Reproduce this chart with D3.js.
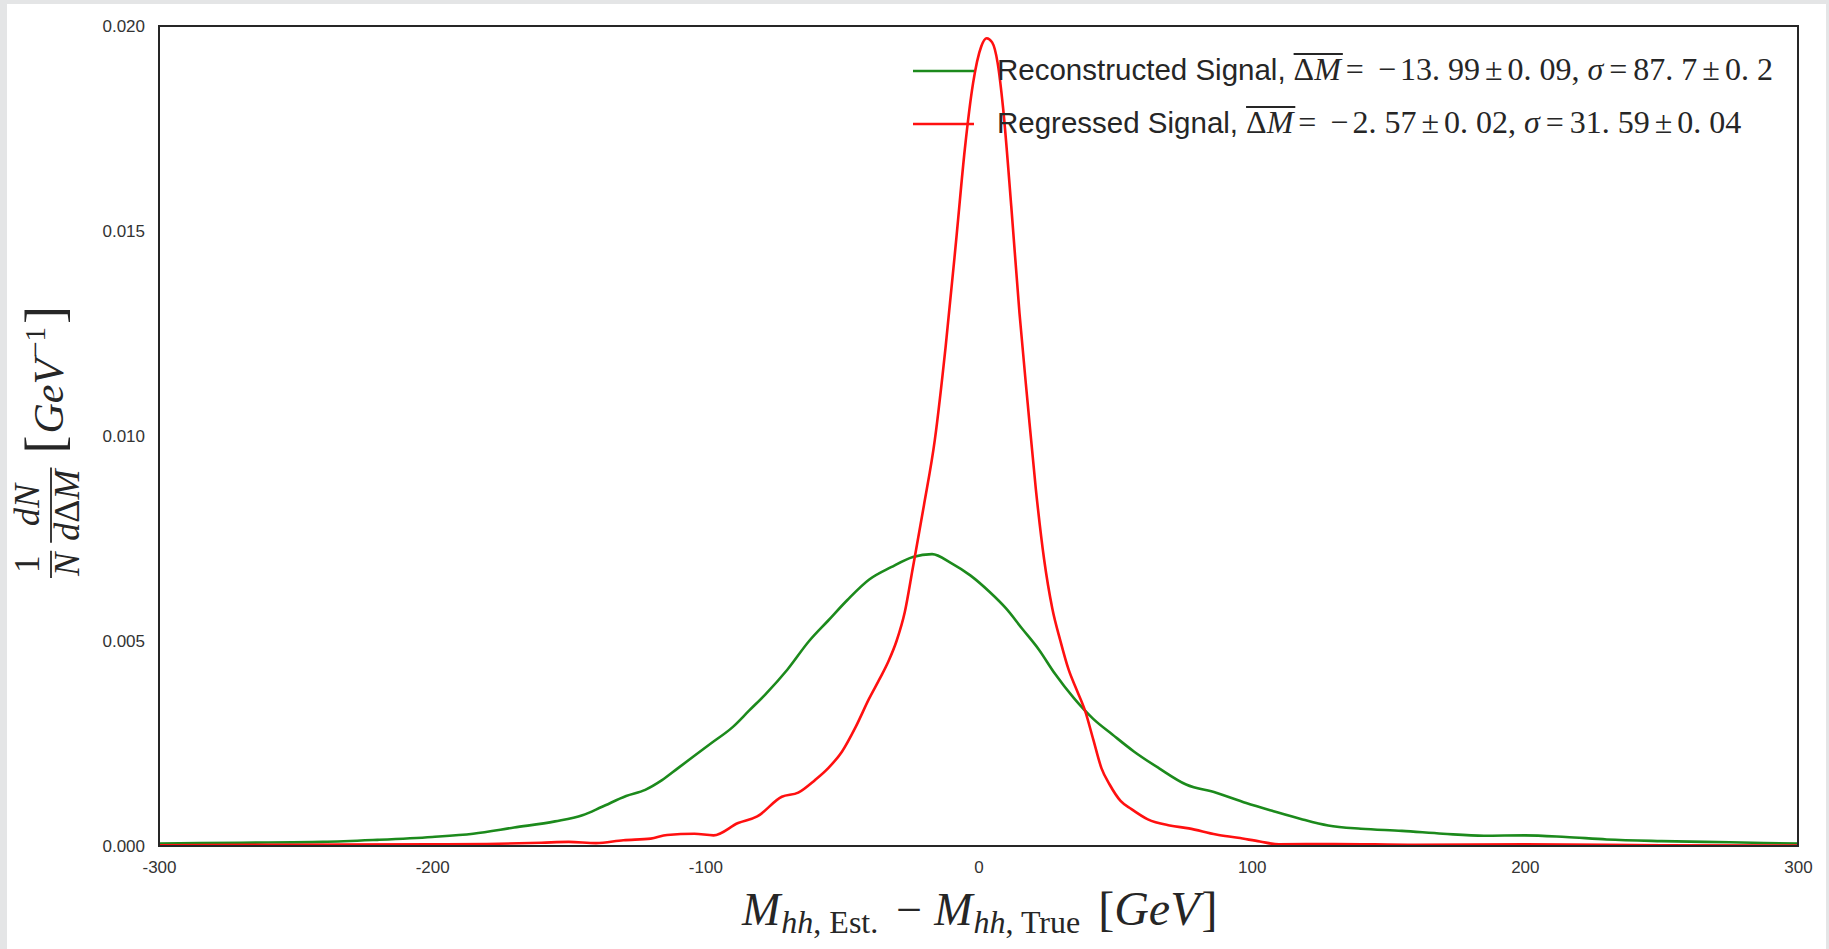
<!DOCTYPE html>
<html>
<head>
<meta charset="utf-8">
<script src="https://cdn.jsdelivr.net/npm/d3@7"></script>
<style>
  body { margin: 0; background: #e4e5e6; }
  svg { display: block; }
</style>
</head>
<body>
<div id="chart"></div>
<script>
// tick values
var xTicks = [-300, -200, -100, 0, 100, 200, 300];
var yTicks = [0, 0.005, 0.010, 0.015, 0.020];

// reconstructed signal (green)
var recoX = [-300, -270, -240, -220, -200, -185, -170, -155, -145, -138, -129, -122, -116, -110, -104, -98, -90, -84, -78, -70, -62, -55, -48, -40, -32, -24, -17, -10, -3, 4, 10, 16, 22, 28, 35, 42, 49, 57, 66, 76, 87, 98, 108, 118, 128, 140, 155, 170, 185, 200, 215, 230, 250, 275, 300];
var recoY = [0.00006, 0.00008, 0.0001, 0.00015, 0.00022, 0.0003, 0.00045, 0.0006, 0.00075, 0.00095, 0.00122, 0.00137, 0.0016, 0.0019, 0.0022, 0.0025, 0.0029, 0.0033, 0.0037, 0.0043, 0.0050, 0.0055, 0.0060, 0.0065, 0.0068, 0.00705, 0.00712, 0.0069, 0.0066, 0.0062, 0.0058, 0.0053, 0.0048, 0.0042, 0.0036, 0.0031, 0.00272, 0.0023, 0.0019, 0.0015, 0.0013, 0.00105, 0.00085, 0.00066, 0.0005, 0.00042, 0.00037, 0.0003, 0.00025, 0.00026, 0.00022, 0.00016, 0.00012, 0.00009, 0.00006];

// regressed signal (red)
var regX = [-300, -250, -200, -180, -160, -150, -140, -130, -120, -114, -104, -97, -88, -81, -72, -66, -60, -55, -50, -45, -40, -36, -33, -30, -27, -24, -20, -16, -12, -8, -5, -2, 1, 3, 5, 7, 9, 12, 15, 18, 21, 24, 27, 30, 33, 36, 39, 42, 45, 48, 52, 56, 62, 70, 77, 87, 95, 103, 110, 130, 160, 200, 250, 300];
var regY = [0.00002, 0.00003, 0.00004, 0.00005, 0.00008, 0.0001, 0.00007, 0.00014, 0.00018, 0.00027, 0.0003, 0.00026, 0.00056, 0.00072, 0.0012, 0.0013, 0.0016, 0.0019, 0.0023, 0.0029, 0.0036, 0.0041, 0.0045, 0.0050, 0.0057, 0.0068, 0.0083, 0.0099, 0.0122, 0.0149, 0.0170, 0.0186, 0.0195, 0.0197, 0.0196, 0.0191, 0.0180, 0.0156, 0.0130, 0.0108, 0.0087, 0.0070, 0.0058, 0.0050, 0.0043, 0.0038, 0.0033, 0.0026, 0.0019, 0.0015, 0.0011, 0.0009, 0.00065, 0.0005, 0.00043, 0.00028, 0.0002, 0.00011, 0.00004, 0.00005, 0.00003, 0.00004, 0.00002, 0.00001];

var W = 1829, H = 949;
var margin = {top: 26, right: 31, bottom: 103, left: 159};
var ink = "#262626";
var sans = "'Liberation Sans', Arial, sans-serif";
var serif = "'Liberation Serif', 'Times New Roman', serif";

var svg = d3.select("#chart").append("svg")
    .attr("width", W)
    .attr("height", H);

// white page on grey frame
svg.append("rect").attr("x", 7).attr("y", 4).attr("width", 1819).attr("height", H - 4).attr("fill", "#fff");

var x = d3.scaleLinear().domain([-300, 300]).range([margin.left, W - margin.right]);
var y = d3.scaleLinear().domain([0, 0.020]).range([H - margin.bottom, margin.top]);

var xAxis = svg.append("g")
    .attr("transform", "translate(0," + (H - margin.bottom) + ")")
    .call(d3.axisBottom(x).tickValues(xTicks).tickSize(0).tickPadding(15)
      .tickFormat(function(d) { return String(d); }));

var yAxis = svg.append("g")
    .attr("transform", "translate(" + margin.left + ",0)")
    .call(d3.axisLeft(y).tickValues(yTicks).tickSize(0).tickPadding(14)
      .tickFormat(d3.format(".3f")));

[xAxis, yAxis].forEach(function(a) {
  a.select(".domain").remove();
  a.selectAll("text").attr("fill", "#333").style("font-family", sans).style("font-size", "17px");
});

var line = d3.line()
    .x(function(d) { return x(d[0]); })
    .y(function(d) { return y(d[1]); })
    .curve(d3.curveMonotoneX);

svg.append("path")
    .datum(d3.zip(recoX, recoY))
    .attr("fill", "none").attr("stroke", "#1c8a1c").attr("stroke-width", 2.6)
    .attr("d", line);

svg.append("path")
    .datum(d3.zip(regX, regY))
    .attr("fill", "none").attr("stroke", "#ff1010").attr("stroke-width", 2.6)
    .attr("d", line);

// frame
svg.append("rect")
    .attr("x", x(-300)).attr("y", y(0.020))
    .attr("width", x(300) - x(-300)).attr("height", y(0) - y(0.020))
    .attr("fill", "none").attr("stroke", ink).attr("stroke-width", 2);

// lays out text runs one after the other, returns the end position
function flow(g, runs, x0, y0) {
  var cx = x0;
  runs.forEach(function(r) {
    var t = g.append("text")
        .attr("x", cx).attr("y", y0 + (r.dy || 0))
        .attr("fill", ink)
        .style("font-family", r.f || serif)
        .style("font-size", r.s + "px")
        .style("font-style", r.i ? "italic" : "normal")
        .text(r.t);
    var w = t.node().getComputedTextLength();
    r.x0 = cx; r.x1 = cx + w;
    cx += w + (r.gap || 0);
  });
  return cx;
}

function overline(g, a, b, y0) {
  g.append("line").attr("x1", a).attr("x2", b).attr("y1", y0).attr("y2", y0)
    .attr("stroke", ink).attr("stroke-width", 1.8);
}

// legend
var legendColors = ["#1c8a1c", "#ff1010"];
var legendNames = ["Reconstructed Signal,", "Regressed Signal,"];
var legendMean = [["\u2212", "13. 99", "0. 09,"], ["\u2212", "2. 57", "0. 02,"]];
var legendSigma = [["87. 7", "0. 2"], ["31. 59", "0. 04"]];

var lg = svg.append("g");
legendNames.forEach(function(name, i) {
  var by = 80 + i * 53, ms = 32;
  lg.append("line").attr("x1", 913).attr("x2", 974).attr("y1", by - 9).attr("y2", by - 9)
    .attr("stroke", legendColors[i]).attr("stroke-width", 2.6);
  var runs = [
    {t: name, f: sans, s: 29.5, gap: 8},
    {t: "\u0394", s: ms},
    {t: "M", s: ms, i: true, gap: 5},
    {t: "=", s: ms, gap: 14},
    {t: legendMean[i][0], s: ms, gap: 4},
    {t: legendMean[i][1], s: ms, gap: 5},
    {t: "\u00b1", s: ms, gap: 5},
    {t: legendMean[i][2], s: ms, gap: 8},
    {t: "\u03c3", s: ms, i: true, gap: 6},
    {t: "=", s: ms, gap: 6},
    {t: legendSigma[i][0], s: ms, gap: 5},
    {t: "\u00b1", s: ms, gap: 5},
    {t: legendSigma[i][1], s: ms}
  ];
  flow(lg, runs, 997, by);
  overline(lg, runs[1].x0, runs[2].x1 + 2, by - 26);
});

// x label
var xl = svg.append("g");
var xr = [
  {t: "M", s: 46, i: true, gap: 1},
  {t: "hh", s: 32, i: true, dy: 8},
  {t: ", Est.", s: 32, dy: 8, gap: 18},
  {t: "\u2212", s: 46, gap: 12},
  {t: "M", s: 46, i: true, gap: 1},
  {t: "hh", s: 32, i: true, dy: 8},
  {t: ", True", s: 32, dy: 8, gap: 18},
  {t: "[", s: 48},
  {t: "GeV", s: 48, i: true, gap: 2},
  {t: "]", s: 48}
];
flow(xl, xr, 742, 925);

// y label, rotated: local x runs up the page, local y is screen x
var yl = svg.append("g").attr("transform", "translate(0,578) rotate(-90)");

function frac(g, x0, num, den, s, bar) {
  var a = g.append("text").attr("y", bar - 12).attr("text-anchor", "middle")
      .attr("fill", ink).style("font-family", serif).style("font-size", s + "px");
  num.forEach(function(p) { a.append("tspan").style("font-style", p.i ? "italic" : "normal").text(p.t); });
  var b = g.append("text").attr("y", bar + 28).attr("text-anchor", "middle")
      .attr("fill", ink).style("font-family", serif).style("font-size", s + "px");
  den.forEach(function(p) { b.append("tspan").style("font-style", p.i ? "italic" : "normal").text(p.t); });
  var w = Math.max(a.node().getComputedTextLength(), b.node().getComputedTextLength()) + 4;
  a.attr("x", x0 + w / 2); b.attr("x", x0 + w / 2);
  g.append("line").attr("x1", x0).attr("x2", x0 + w).attr("y1", bar).attr("y2", bar)
    .attr("stroke", ink).attr("stroke-width", 1.8);
  return x0 + w;
}

var fx = frac(yl, 0, [{t: "1"}], [{t: "N", i: true}], 35, 51);
fx = frac(yl, fx + 8, [{t: "d", i: true}, {t: "N", i: true}], [{t: "d", i: true}, {t: "\u0394"}, {t: "M", i: true}], 36, 51);
flow(yl, [
  {t: "[", s: 54, gap: 2},
  {t: "GeV", s: 42, i: true, gap: 1},
  {t: "\u22121", s: 29, dy: -18, gap: 3},
  {t: "]", s: 54}
], fx + 14, 63);
</script>
</body>
</html>
